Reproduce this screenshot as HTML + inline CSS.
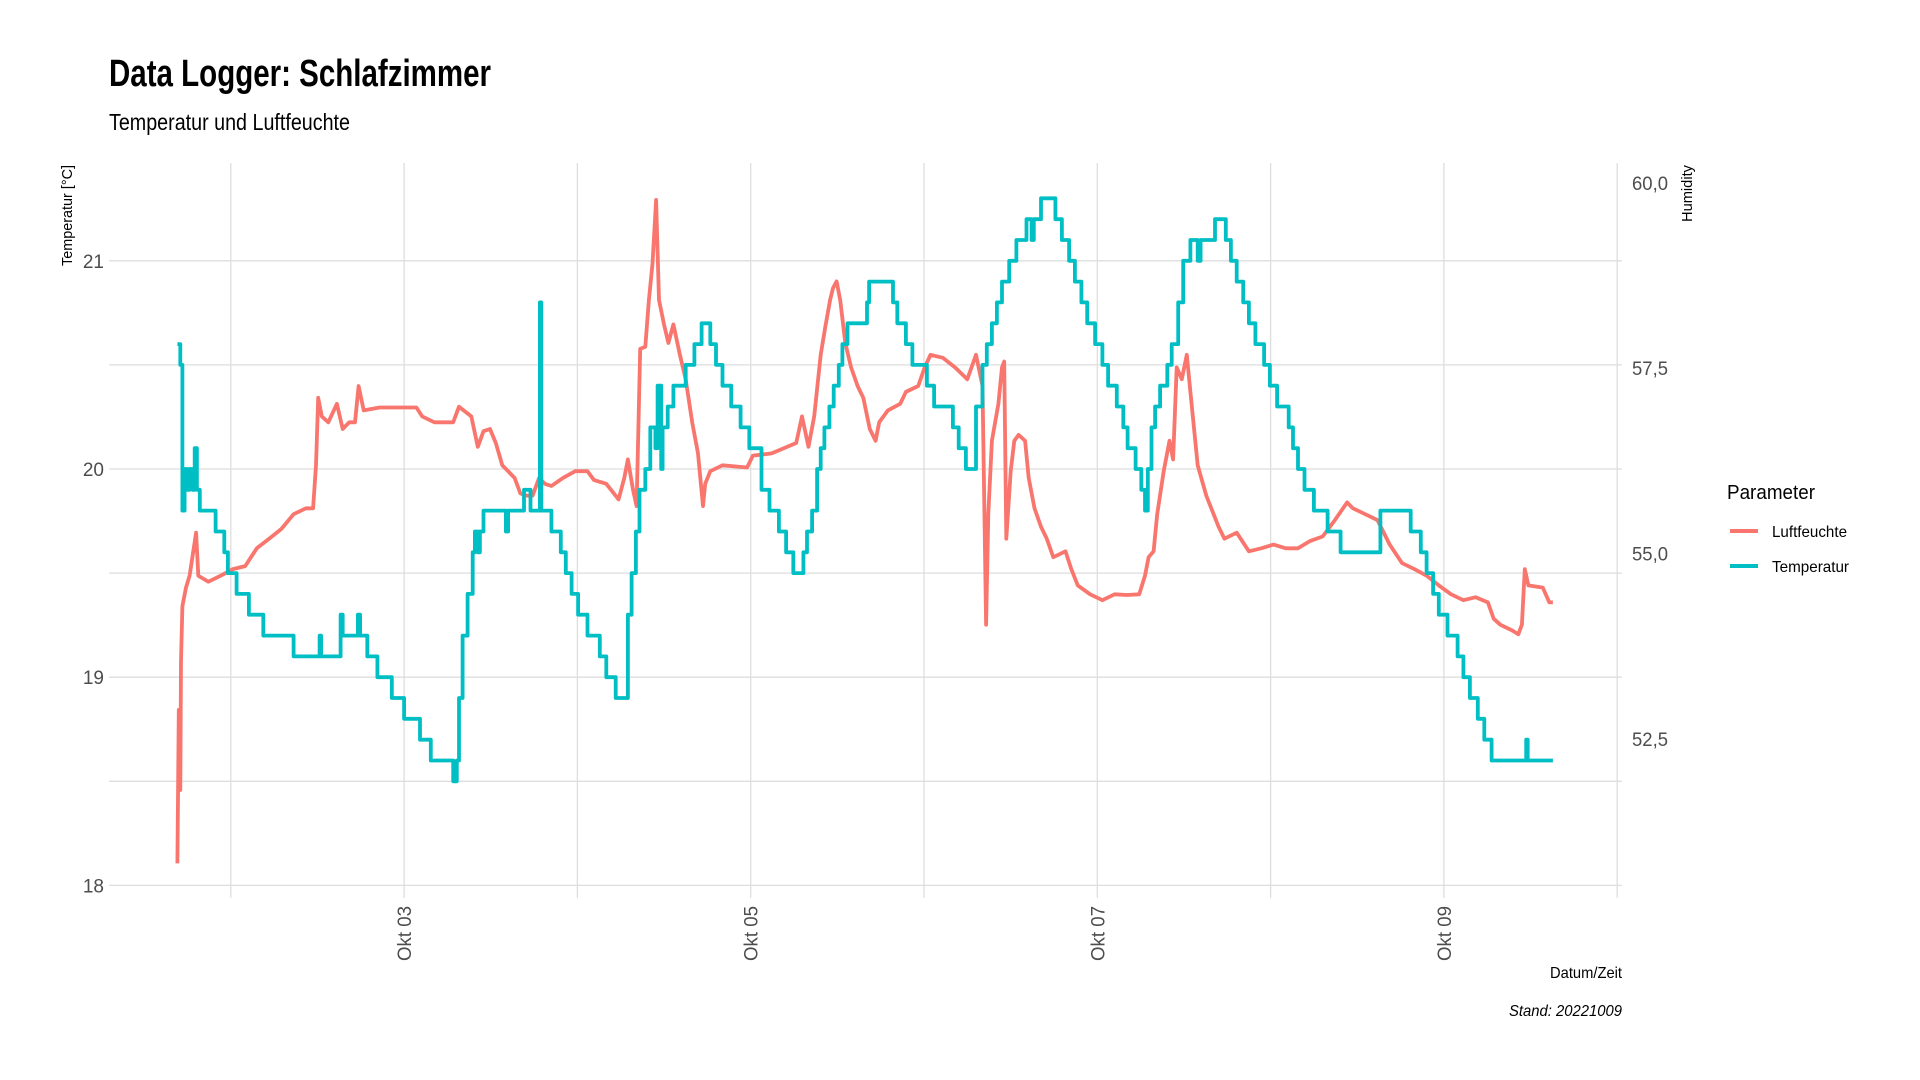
<!DOCTYPE html>
<html><head><meta charset="utf-8"><title>Data Logger: Schlafzimmer</title>
<style>
html,body{margin:0;padding:0;background:#fff;}
svg{display:block;font-family:"Liberation Sans Narrow","Liberation Sans",sans-serif;}
</style></head>
<body>
<svg id="chart" width="1920" height="1080" viewBox="0 0 1920 1080" xmlns="http://www.w3.org/2000/svg">
<rect width="1920" height="1080" fill="#fff"/>
<text x="109" y="86" font-size="38" font-weight="bold" fill="#000" textLength="382" lengthAdjust="spacingAndGlyphs">Data Logger: Schlafzimmer</text>
<text x="109" y="130" font-size="23" fill="#000" textLength="241" lengthAdjust="spacingAndGlyphs">Temperatur und Luftfeuchte</text>
<g id="grid"></g>
<g id="series"></g>
<g id="axes"></g>
<text transform="translate(72,165) rotate(-90)" text-anchor="end" font-size="15" fill="#000" textLength="101" lengthAdjust="spacingAndGlyphs">Temperatur [°C]</text>
<text transform="translate(1692,165) rotate(-90)" text-anchor="end" font-size="15" fill="#000" textLength="57" lengthAdjust="spacingAndGlyphs">Humidity</text>
<text x="1622" y="978" text-anchor="end" font-size="16" fill="#000" textLength="72" lengthAdjust="spacingAndGlyphs">Datum/Zeit</text>
<text x="1622" y="1016" text-anchor="end" font-size="16" font-style="italic" fill="#000" textLength="113" lengthAdjust="spacingAndGlyphs">Stand: 20221009</text>
<g>
<text x="1727" y="499" font-size="20" fill="#000" textLength="88" lengthAdjust="spacingAndGlyphs">Parameter</text>
<line x1="1730" y1="531" x2="1758" y2="531" stroke="#F8766D" stroke-width="4"/>
<text x="1772" y="537" font-size="16" fill="#000" textLength="75" lengthAdjust="spacingAndGlyphs">Luftfeuchte</text>
<line x1="1730" y1="566" x2="1758" y2="566" stroke="#00BFC4" stroke-width="4"/>
<text x="1772" y="572" font-size="16" fill="#000" textLength="77" lengthAdjust="spacingAndGlyphs">Temperatur</text>
</g>
</svg>
<script>
// hours since 01 Okt 00:00
const tempHours = [16.6,17.0,17.3,17.6,18.0,18.3,18.7,19.0,19.3,19.7,21.9,23.1,23.6,24.8,26.5,28.5,32.7,36.3,36.5,39.2,39.5,41.6,41.9,42.9,44.3,46.3,48.0,50.2,51.7,54.8,55.3,55.6,56.1,56.8,57.5,57.8,58.2,58.5,59.0,62.1,62.4,64.6,65.5,66.8,67.0,68.4,69.7,70.4,71.2,72.1,73.4,75.1,76.0,77.3,79.0,79.5,80.1,80.6,81.4,82.1,82.8,83.1,83.6,83.8,84.5,85.3,87.0,88.2,89.2,90.4,91.2,92.1,93.3,94.6,95.8,97.5,98.6,99.9,100.9,101.9,103.3,103.8,104.5,105.2,105.7,106.2,106.9,107.5,108.2,108.7,109.4,112.1,112.4,115.7,116.3,117.5,118.4,120.4,121.4,124.0,124.8,125.8,127.2,128.1,128.7,129.4,130.1,130.8,131.8,132.8,134.2,134.9,135.2,136.2,138.2,139.1,140.1,140.9,141.8,142.6,143.7,144.7,145.5,146.7,147.6,148.2,149.3,150.1,150.6,151.0,151.5,152.0,152.7,153.7,154.3,155.2,155.9,156.9,157.9,158.3,160.3,161.8,162.5,163.3,164.2,165.0,165.9,167.1,167.9,168.9,170.5,171.1,171.8,172.7,174.0,175.9,177.7,183.2,187.4,188.8,189.6,190.5,191.3,192.5,193.9,194.7,195.6,196.7,197.6,198.6,203.4,203.6,207.1];
const tempValues = [20.6,20.5,19.8,20.0,19.9,20.0,19.9,20.1,19.9,19.8,19.7,19.6,19.5,19.4,19.3,19.2,19.1,19.2,19.1,19.3,19.2,19.3,19.2,19.1,19.0,18.9,18.8,18.7,18.6,18.5,18.6,18.9,19.2,19.4,19.6,19.7,19.6,19.7,19.8,19.7,19.8,19.9,19.8,20.8,19.8,19.7,19.6,19.5,19.4,19.3,19.2,19.1,19.0,18.9,19.3,19.5,19.7,19.9,20.0,20.2,20.1,20.4,20.0,20.2,20.3,20.4,20.5,20.6,20.7,20.6,20.5,20.4,20.3,20.2,20.1,19.9,19.8,19.7,19.6,19.5,19.6,19.7,19.8,20.0,20.1,20.2,20.3,20.4,20.5,20.6,20.7,20.8,20.9,20.8,20.7,20.6,20.5,20.4,20.3,20.2,20.1,20.0,20.3,20.5,20.6,20.7,20.8,20.9,21.0,21.1,21.2,21.1,21.2,21.3,21.2,21.1,21.0,20.9,20.8,20.7,20.6,20.5,20.4,20.3,20.2,20.1,20.0,19.9,19.8,20.0,20.2,20.3,20.4,20.5,20.6,20.8,21.0,21.1,21.0,21.1,21.2,21.1,21.0,20.9,20.8,20.7,20.6,20.5,20.4,20.3,20.2,20.1,20.0,19.9,19.8,19.7,19.6,19.8,19.7,19.6,19.5,19.4,19.3,19.2,19.1,19.0,18.9,18.8,18.7,18.6,18.7,18.6,18.6];
const humHours = [16.6,16.8,17.0,17.1,17.3,17.8,18.3,19.2,19.5,20.9,22.6,24.3,26.0,26.8,27.6,29.3,31.0,32.7,34.4,35.4,35.8,36.1,36.6,37.5,38.7,39.5,40.4,41.2,41.7,42.4,44.6,48.0,49.7,50.5,52.2,54.8,55.6,57.3,58.2,59.0,59.9,60.7,61.6,62.4,63.3,64.1,65.0,65.8,66.7,67.5,68.4,70.0,71.7,73.4,74.3,76.0,77.7,78.5,79.0,79.7,80.2,80.7,81.4,81.9,82.4,82.9,83.3,84.0,84.6,85.3,86.2,87.0,87.9,88.7,89.4,89.7,90.4,92.1,95.5,96.3,98.9,102.3,103.1,104.0,104.8,105.7,106.3,107.0,107.4,107.9,108.4,109.1,109.9,110.8,111.6,112.5,113.3,113.8,115.0,116.7,117.5,119.2,120.1,120.9,122.6,124.3,126.0,127.2,128.1,128.6,128.9,129.4,130.3,130.8,131.1,131.4,132.0,132.5,133.1,134.0,134.5,135.3,136.2,137.0,137.9,139.6,140.4,141.3,143.0,144.7,146.4,148.1,149.8,150.6,151.1,151.8,152.3,153.2,154.0,154.5,155.0,155.7,156.4,156.9,157.9,159.1,160.8,161.6,163.3,165.0,166.7,168.4,170.1,171.8,173.5,175.2,176.9,178.6,179.4,181.1,182.8,184.5,186.2,187.9,189.6,191.3,193.0,194.7,196.4,198.1,198.9,199.8,201.5,202.3,202.8,203.2,203.7,205.7,206.6,207.1];
const humValues = [50.82,52.89,51.81,53.55,54.29,54.54,54.70,55.28,54.70,54.62,54.70,54.79,54.83,54.95,55.07,55.20,55.33,55.53,55.61,55.61,56.19,57.10,56.85,56.77,57.02,56.68,56.77,56.77,57.26,56.93,56.97,56.97,56.97,56.85,56.77,56.77,56.98,56.85,56.44,56.65,56.68,56.49,56.19,56.11,56.02,55.81,55.78,55.78,56.02,55.94,55.91,56.02,56.11,56.11,55.99,55.94,55.73,56.02,56.27,55.86,55.64,57.76,57.79,58.42,58.91,59.77,58.42,58.09,57.84,58.09,57.68,57.35,56.77,56.35,55.64,55.94,56.11,56.19,56.16,56.32,56.35,56.49,56.85,56.44,56.85,57.68,58.04,58.42,58.58,58.67,58.42,57.84,57.51,57.26,57.10,56.68,56.52,56.77,56.93,57.02,57.18,57.26,57.51,57.68,57.64,57.51,57.35,57.68,57.26,54.04,55.53,56.52,57.02,57.51,57.59,55.20,56.11,56.52,56.60,56.52,56.02,55.61,55.36,55.20,54.95,55.03,54.79,54.57,54.45,54.37,54.45,54.44,54.45,54.70,54.95,55.03,55.53,56.11,56.52,56.27,57.51,57.35,57.68,57.18,56.19,55.78,55.36,55.20,55.28,55.03,55.07,55.12,55.07,55.07,55.17,55.23,55.45,55.69,55.61,55.53,55.45,55.12,54.87,54.79,54.70,54.57,54.45,54.37,54.41,54.34,54.12,54.04,53.96,53.91,54.04,54.79,54.57,54.54,54.34,54.34];
const tempTicks = [18,19,20,21];
const tempMinor = [18.5,19.5,20.5];
const humTicks = [52.5,55.0,57.5,60.0];
const humTickLabels = ["52,5","55,0","57,5","60,0"];
const dayTicks = [48,96,144,192];
const dayTickLabels = ["Okt 03","Okt 05","Okt 07","Okt 09"];
const dayMinor = [24,72,120,168,216];

const NS = "http://www.w3.org/2000/svg";
const PL = 109, PR = 1622, PT = 163, PB = 898;
function xScale(h){ return 404.1 + (h - 48) * 173.3 / 24; }
function yT(t){ return 260.8 - (t - 21) * 208.2; }
function yH(v){ return 553.5 - (v - 55) * 74.13; }
function mk(tag, attrs, parent){
  const e = document.createElementNS(NS, tag);
  for (const k in attrs) e.setAttribute(k, attrs[k]);
  parent.appendChild(e);
  return e;
}
const grid = document.getElementById('grid');
const axes = document.getElementById('axes');
const series = document.getElementById('series');

tempTicks.concat(tempMinor).forEach(t => {
  const l = mk('line', {x1: PL, x2: PR, y1: yT(t), y2: yT(t), stroke: '#dedede', 'stroke-width': 1.3}, grid);
  
  
});
dayTicks.concat(dayMinor).forEach(h => {
  const l = mk('line', {x1: xScale(h), x2: xScale(h), y1: PT, y2: PB, stroke: '#dedede', 'stroke-width': 1.3}, grid);
  
  
});
tempTicks.forEach(t => {
  const tx = mk('text', {x: 104, y: yT(t) + 7, 'text-anchor': 'end', 'font-size': 19, fill: '#4d4d4d'}, axes);
  tx.textContent = String(t);
  
  
});
humTicks.forEach((v, i) => {
  const tx = mk('text', {x: 1632, y: yH(v) + 7, 'font-size': 19, fill: '#4d4d4d', textLength: 36, lengthAdjust: 'spacingAndGlyphs'}, axes);
  tx.textContent = humTickLabels[i];
  
  
});
dayTicks.forEach((h, i) => {
  const tx = mk('text', {transform: 'translate(' + (xScale(h) + 7) + ',906) rotate(-90)', 'text-anchor': 'end', 'font-size': 19, fill: '#4d4d4d', textLength: 55, lengthAdjust: 'spacingAndGlyphs'}, axes);
  tx.textContent = dayTickLabels[i];
  
  
});

function stepPath(xs, ys, fy){
  let d = 'M' + xScale(xs[0]).toFixed(1) + ',' + fy(ys[0]).toFixed(1);
  for (let i = 1; i < xs.length; i++){
    d += 'H' + xScale(xs[i]).toFixed(1) + 'V' + fy(ys[i]).toFixed(1);
  }
  return d;
}
function linePath(xs, ys, fy){
  return xs.map((h, i) => (i ? 'L' : 'M') + xScale(h).toFixed(1) + ',' + fy(ys[i]).toFixed(1)).join('');
}
const hp = mk('path', {d: linePath(humHours, humValues, yH), fill: 'none', stroke: '#F8766D', 'stroke-width': 3.8, 'stroke-linejoin': 'round'}, series);


const tp = mk('path', {d: stepPath(tempHours, tempValues, yT), fill: 'none', stroke: '#00BFC4', 'stroke-width': 3.8, 'stroke-linejoin': 'round'}, series);


</script>
</body></html>
